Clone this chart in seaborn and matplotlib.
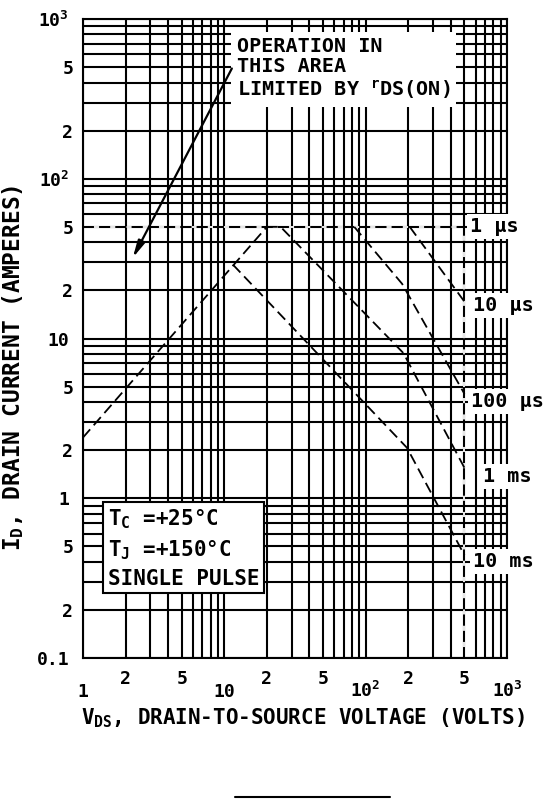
import math
import matplotlib
matplotlib.use("Agg")
import matplotlib.pyplot as plt
import matplotlib.ticker as mticker
from matplotlib.lines import Line2D
import seaborn as sns

# ---------------- data ----------------
rds_v = [1, 20]
rds_i = [2.4, 50]
us1_v = [1, 500]
us1_i = [50, 50]
us10_v = [205, 500]
us10_i = [50, 17]
us100_v = [83, 181, 500]
us100_i = [50, 22, 4.5]
ms1_v = [20, 25, 185, 500]
ms1_i = [50, 50, 8.1, 1.55]
ms10_v = [11.5, 196, 500]
ms10_i = [29, 2.07, 0.44]
bv_v = [500, 500]
bv_i = [0.1, 50]

curve_labels = ["1 µs", "10 µs", "100 µs", "1 ms", "10 ms"]
curve_label_i = [50, 16, 4.05, 1.37, 0.40]
curve_label_xfrac = [0.913, 0.920, 0.915, 0.943, 0.920]

x_major = [1, 10, 100, 1000]
x_major_labels = ["1", "10", r"$\mathbf{10^{2}}$", r"$\mathbf{10^{3}}$"]
x_minor = [2, 5, 20, 50, 200, 500]
x_minor_labels = ["2", "5", "2", "5", "2", "5"]
y_major = [0.1, 1, 10, 100, 1000]
y_major_labels = ["0.1", "1", "10", r"$\mathbf{10^{2}}$", r"$\mathbf{10^{3}}$"]

arrow_tail = (11.3, 490)
arrow_head = (2.25, 32)

# ---------------- style ----------------
sns.set_style("white")
plt.rcParams["font.family"] = ["DejaVu Sans Mono", "DejaVu Sans"]
plt.rcParams["font.weight"] = "bold"
plt.rcParams["text.color"] = "black"
plt.rcParams["axes.labelcolor"] = "black"
plt.rcParams["axes.labelweight"] = "bold"
plt.rcParams["xtick.color"] = "black"
plt.rcParams["ytick.color"] = "black"
plt.rcParams["mathtext.fontset"] = "custom"
plt.rcParams["mathtext.rm"] = "DejaVu Sans Mono:bold"
plt.rcParams["mathtext.it"] = "DejaVu Sans Mono:bold"
plt.rcParams["mathtext.bf"] = "DejaVu Sans Mono:bold"
plt.rcParams["mathtext.sf"] = "DejaVu Sans Mono:bold"
plt.rcParams["mathtext.default"] = "bf"

W, H = 546, 799
fig = plt.figure(figsize=(W / 100, H / 100), dpi=100)
L, R, T, B = 83, 507, 19, 658
ax = fig.add_axes([L / W, 1 - B / H, (R - L) / W, (B - T) / H])
ax.set_xscale("log")
ax.set_yscale("log")
ax.set_xlim(1, 1000)
ax.set_ylim(0.1, 1000)

GRID_LW = 1.5
ax.set_axisbelow(True)
ax.xaxis.set_major_locator(mticker.FixedLocator(x_major))
ax.xaxis.set_minor_locator(mticker.LogLocator(base=10, subs=range(2, 10)))
ax.yaxis.set_major_locator(mticker.FixedLocator(y_major))
ax.yaxis.set_minor_locator(mticker.LogLocator(base=10, subs=range(2, 10)))
ax.xaxis.set_major_formatter(mticker.NullFormatter())
ax.xaxis.set_minor_formatter(mticker.NullFormatter())
ax.yaxis.set_major_formatter(mticker.FixedFormatter(y_major_labels))


def ylab_minor(v, pos):
    m = v / 10 ** math.floor(math.log10(v) + 1e-9)
    if abs(m - 2) < 1e-6:
        return "2"
    if abs(m - 5) < 1e-6:
        return "5"
    return ""


ax.yaxis.set_minor_formatter(mticker.FuncFormatter(ylab_minor))
ax.grid(True, which="both", color="black", lw=GRID_LW)
ax.tick_params(which="both", length=0, labelsize=13, colors="black")
ax.tick_params(axis="y", which="major", pad=10)
ax.tick_params(axis="y", which="minor", pad=7)
for s in ax.spines.values():
    s.set_color("black")
    s.set_linewidth(GRID_LW)

dash = (0, (6, 3))
LW = 1.3
sns.lineplot(x=rds_v, y=rds_i, ax=ax, color="black", lw=LW, linestyle=dash, sort=False, estimator=None)
sns.lineplot(x=us1_v, y=us1_i, ax=ax, color="black", lw=LW, linestyle=dash, gapcolor="white", sort=False, estimator=None)
sns.lineplot(x=bv_v, y=bv_i, ax=ax, color="black", lw=LW, linestyle=dash, gapcolor="white", sort=False, estimator=None)
for vv, ii in [(us10_v, us10_i), (us100_v, us100_i), (ms1_v, ms1_i), (ms10_v, ms10_i)]:
    sns.lineplot(x=vv, y=ii, ax=ax, color="black", lw=LW, linestyle=dash, sort=False, estimator=None)

# curve labels on the right
ytrans = ax.get_yaxis_transform()
for lab, iv, xf in zip(curve_labels, curve_label_i, curve_label_xfrac):
    ax.text(xf, iv, lab, transform=ytrans, fontsize=14.5, ha="left", va="center",
            bbox=dict(boxstyle="square,pad=0.15", fc="white", ec="none"), zorder=5, clip_on=False)

# x tick labels (staggered like the reference)
xtrans = ax.get_xaxis_transform()
for v, lab in zip(x_major, x_major_labels):
    ax.text(v, -0.061, lab, transform=xtrans, fontsize=13, ha="center", va="baseline", clip_on=False)
for v, lab in zip(x_minor, x_minor_labels):
    ax.text(v, -0.041, lab, transform=xtrans, fontsize=13, ha="center", va="baseline", clip_on=False)

# axis titles
ax.set_xlabel(r"V$_{\mathbf{DS}}$, DRAIN-TO-SOURCE VOLTAGE (VOLTS)", fontsize=15)
ax.xaxis.set_label_coords(0.519, -0.094)
ax.xaxis.label.set_va("center")
ax.set_ylabel(r"I$_{\mathbf{D}}$, DRAIN CURRENT (AMPERES)", fontsize=16.5)
ax.yaxis.set_label_coords(-0.165, 0.454)
ax.yaxis.label.set_va("center")

# annotation box with arrow
ax.text(0.363, 0.972, "OPERATION IN\nTHIS AREA\nLIMITED BY $^{\\mathbf{r}}$DS(ON)", transform=ax.transAxes,
        fontsize=14.5, ha="left", va="top", linespacing=1.1,
        bbox=dict(boxstyle="square,pad=0.3", fc="white", ec="none"), zorder=5)
ax.annotate("", xy=arrow_head, xytext=arrow_tail,
            arrowprops=dict(arrowstyle="-|>,head_length=1.0,head_width=0.22", lw=1.6, color="black",
                            shrinkA=0, shrinkB=0), zorder=6)

# conditions box
ax.text(0.059, 0.235, "T$_{\\mathbf{C}}$ =+25°C\nT$_{\\mathbf{J}}$ =+150°C\nSINGLE PULSE", transform=ax.transAxes,
        fontsize=15, ha="left", va="top", linespacing=1.4,
        bbox=dict(boxstyle="square,pad=0.22", fc="white", ec="black", lw=1.5), zorder=5)

# small rule at bottom of page
fig.add_artist(Line2D([235 / W, 390 / W], [1 - 797 / H, 1 - 797 / H], color="black", lw=1.5))

fig.savefig("out.png", dpi=100, facecolor="white")
